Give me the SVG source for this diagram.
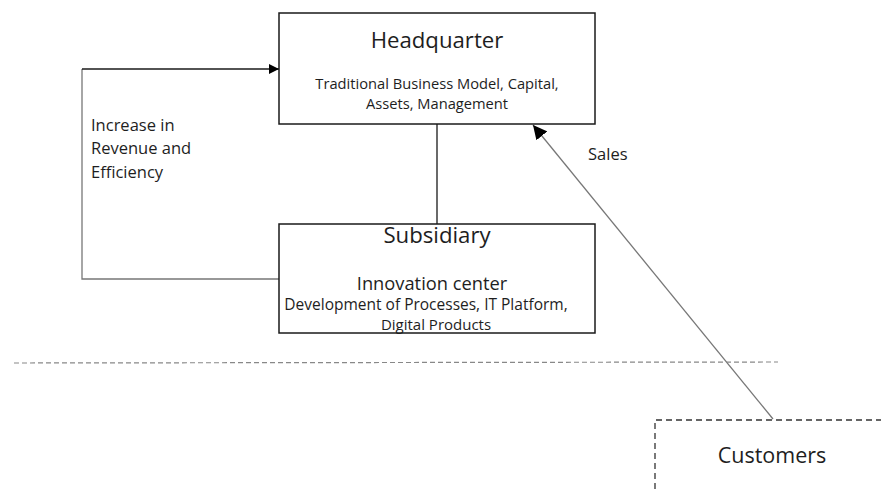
<svg xmlns="http://www.w3.org/2000/svg" width="881" height="489" viewBox="0 0 881 489">
  <defs>
    <marker id="arrow" viewBox="0 0 10 10" refX="10" refY="5" markerWidth="10" markerHeight="10" markerUnits="userSpaceOnUse" orient="auto">
      <path d="M0,0 L10,5 L0,10 z" fill="#000"/>
    </marker>
    <marker id="arrowLg" viewBox="0 0 10 10" refX="10" refY="5" markerWidth="14" markerHeight="14" markerUnits="userSpaceOnUse" orient="auto">
      <path d="M0,0 L10,5 L0,10 z" fill="#000"/>
    </marker>
  </defs>
  <style>
    text { font-family: "Open Sans", "Noto Sans", sans-serif; fill: #1e1e1e; }
    .box { fill: #fff; stroke: #1a1a1a; stroke-width: 1.5; }
    .dashbox { fill: none; stroke: #333; stroke-width: 1.3; stroke-dasharray: 6 4; }
    .title { font-size: 22.2px; text-anchor: middle; }
    .body { font-size: 14.7px; text-anchor: middle; }
    .label { font-size: 16.5px; }
  </style>
  <rect width="881" height="489" fill="#fff"/>

  <!-- connectors -->
  <g id="connectors" fill="none">
    <line x1="437" y1="124" x2="437" y2="224" stroke="#1a1a1a" stroke-width="1.3"/>
    <polyline points="281,279 82,279 82,69" stroke="#777" stroke-width="1.3"/>
    <line x1="82" y1="69" x2="279" y2="69" stroke="#1a1a1a" stroke-width="1.3" marker-end="url(#arrow)"/>
    <line x1="773" y1="419" x2="533" y2="125" stroke="#777" stroke-width="1.3" marker-end="url(#arrowLg)"/>
    <line x1="14" y1="363" x2="778" y2="362" stroke="#888" stroke-width="1.2" stroke-dasharray="5 3"/>
  </g>

  <!-- labels on connectors -->
  <g id="feedback-label" class="label">
    <text x="91" y="131">Increase in</text>
    <text x="91" y="154">Revenue and</text>
    <text x="91" y="178">Efficiency</text>
  </g>
  <g id="sales-label">
    <text class="label" x="588" y="160">Sales</text>
  </g>

  <!-- Headquarter node -->
  <g id="headquarter">
    <rect class="box" x="279" y="13" width="316" height="111"/>
    <text class="title" x="437" y="48">Headquarter</text>
    <text class="body" x="437" y="89">Traditional Business Model, Capital,</text>
    <text class="body" x="437" y="109">Assets, Management</text>
  </g>

  <!-- Subsidiary node -->
  <g id="subsidiary">
    <rect class="box" x="279" y="224" width="316" height="109"/>
    <text class="title" x="437" y="243">Subsidiary</text>
    <text x="432" y="290" text-anchor="middle" font-size="18.3">Innovation center</text>
    <text x="426" y="310" text-anchor="middle" font-size="15.5">Development of Processes, IT Platform,</text>
    <text x="436" y="330" text-anchor="middle" font-size="15">Digital Products</text>
  </g>

  <!-- Customers node -->
  <g id="customers">
    <polyline class="dashbox" points="655,489 655,420 881,420"/>
    <text x="772" y="463" text-anchor="middle" font-size="21.5">Customers</text>
  </g>
</svg>
